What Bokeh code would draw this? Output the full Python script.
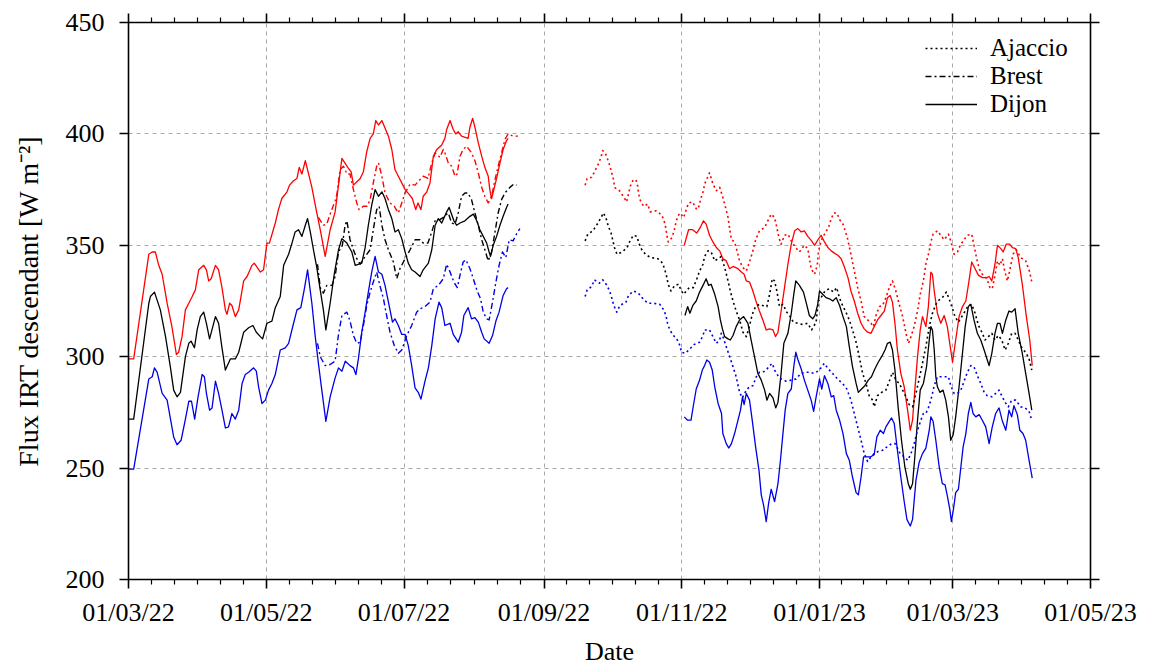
import numpy as np
import pandas as pd
from bokeh.plotting import figure
from bokeh.models import (FixedTicker, DatetimeAxis, LinearAxis, DatetimeTickFormatter,
                          CustomJSTickFormatter, Legend, LegendItem, Range1d)
from bokeh.embed import file_html
from bokeh.resources import INLINE

# ---------------- data ----------------
ORIGIN = "2022-03-01"          # day offsets below are counted from this date
x_tick_dates = ["2022-03-01", "2022-05-01", "2022-07-01", "2022-09-01",
                "2022-11-01", "2023-01-01", "2023-03-01", "2023-05-01"]
y_ticks = [200, 250, 300, 350, 400, 450]
stations = ["Ajaccio", "Brest", "Dijon"]
y_label = "Flux IRT descendant [W m\u207b\u00b2]"
x_label = "Date"

# Dijon, spring-summer 2022
dijon_max_p1_day = [
    0.0, 2.3, 9.0, 10.5, 11.9, 13.4, 14.9, 17.1, 19.3, 21.2,
    22.2, 23.7, 25.2, 26.7, 28.2, 29.6, 31.1, 33.3, 34.5, 35.5,
    36.6, 38.5, 39.9, 41.4, 42.9, 43.6, 44.8, 45.8, 47.3, 48.8,
    51.0, 52.5, 54.7, 55.7, 58.4, 59.8, 61.3, 62.4, 65.0, 66.4,
    67.9, 70.2, 71.3, 73.1, 74.6, 75.6, 76.8, 78.3, 81.2, 83.1,
    84.9, 87.1, 89.3, 91.5, 93.0, 94.5, 97.1, 98.6, 99.6, 102.6,
    104.0, 105.5, 107.0, 108.4, 109.5, 110.7, 112.2, 115.1, 116.6, 118.0,
    119.5, 122.5, 124.2, 125.7, 127.2, 128.2, 129.5, 130.5, 132.1, 133.5,
    135.0, 136.5, 138.7, 140.1, 140.9, 142.4, 143.8, 144.9, 146.0, 147.5,
    150.4, 151.2, 152.4, 153.4, 154.9, 156.4, 157.8, 159.3, 160.0, 160.8,
    163.0, 164.5, 165.9, 167.4, 168.1]
dijon_max_p1 = [
    299, 299, 346, 347, 347, 341, 337, 324, 313, 301,
    302, 309, 321, 324, 327, 330, 339, 341, 339, 334,
    335, 341, 339, 331, 321, 319, 324, 323, 318, 321,
    334, 336, 341, 342, 338, 339, 351, 351, 360, 366,
    371, 374, 377, 379, 380, 385, 382, 388, 376, 366,
    357, 345, 357, 365, 377, 389, 385, 383, 377, 380,
    383, 392, 398, 400, 406, 404, 406, 399, 393, 384,
    381, 375, 373, 371, 366, 369, 366, 372, 374, 378,
    390, 393, 395, 398, 402, 406, 402, 400, 401, 399,
    398, 403, 407, 403, 396, 390, 385, 381, 375, 371,
    380, 387, 393, 397, 398]

dijon_mean_p1_day = [
    0.0, 2.3, 9.0, 9.7, 11.5, 14.1, 16.4, 18.6, 20.0, 21.5,
    23.0, 25.2, 26.7, 27.7, 29.2, 30.4, 31.8, 33.3, 34.5, 35.9,
    38.5, 39.9, 41.4, 42.9, 45.1, 47.3, 48.8, 51.0, 53.2, 55.1,
    56.6, 58.4, 59.4, 61.3, 63.5, 65.0, 67.2, 68.7, 70.9, 72.4,
    73.8, 75.3, 76.8, 78.3, 79.3, 80.5, 81.9, 83.4, 84.9, 86.3,
    87.4, 89.3, 91.1, 93.0, 94.5, 96.7, 98.9, 100.4, 103.3, 104.8,
    106.2, 107.7, 109.2, 110.7, 112.2, 113.6, 115.1, 116.6, 118.0, 119.5,
    121.0, 122.5, 123.9, 125.4, 126.9, 129.1, 130.5, 132.8, 134.3, 135.8,
    137.2, 138.7, 140.9, 142.0, 144.1, 145.3, 146.8, 149.0, 151.2, 152.7,
    154.2, 155.6, 157.1, 158.6, 159.7, 160.3, 161.5, 163.0, 164.5, 165.9,
    167.4, 168.1]
dijon_mean_p1 = [
    272, 272, 324, 327, 329, 321, 309, 295, 285, 282,
    284, 300, 306, 307, 304, 312, 318, 320, 315, 308,
    318, 315, 304, 294, 299, 299, 302, 311, 313, 314,
    311, 309, 308, 315, 316, 322, 327, 341, 346, 351,
    356, 357, 354, 359, 362, 356, 348, 340, 330, 321,
    312, 324, 337, 348, 353, 351, 347, 341, 342, 349,
    359, 368, 375, 372, 374, 371, 366, 362, 356, 357,
    353, 347, 342, 339, 338, 336, 339, 342, 348, 359,
    362, 360, 365, 367, 361, 359, 360, 361, 363, 364,
    361, 357, 354, 351, 347, 345, 350, 354, 359, 363,
    367, 368.5]

dijon_min_p1_day = [
    0.0, 2.3, 9.0, 10.5, 11.5, 12.7, 14.9, 17.1, 18.6, 20.0,
    21.5, 23.3, 25.2, 26.7, 27.9, 29.3, 30.8, 32.6, 33.6, 34.5,
    35.9, 37.0, 38.5, 39.9, 41.4, 42.9, 44.3, 45.8, 47.3, 48.8,
    50.3, 51.7, 53.2, 55.4, 56.6, 57.6, 59.1, 60.6, 62.0, 63.5,
    65.0, 67.2, 69.4, 70.9, 73.1, 74.6, 76.3, 77.8, 79.3, 81.2,
    82.7, 84.1, 85.6, 87.4, 89.3, 91.5, 93.0, 94.5, 96.0, 98.1,
    99.6, 100.7, 101.8, 103.3, 104.8, 106.2, 107.7, 109.2, 110.7, 112.2,
    113.6, 115.4, 116.9, 118.0, 119.5, 121.0, 122.5, 123.9, 125.4, 126.9,
    128.3, 129.5, 131.3, 132.8, 134.3, 135.8, 137.5, 138.7, 140.1, 142.4,
    143.8, 146.0, 147.5, 148.5, 150.4, 151.9, 153.4, 154.9, 156.4, 157.5,
    159.7, 161.2, 162.7, 164.1, 165.9, 167.4, 168.1]
dijon_min_p1 = [
    249.5, 249.5, 290, 291, 295, 293, 283.5, 280.5, 272, 264,
    260.5, 262.5, 272, 280, 280, 272, 282, 292, 291, 283.5,
    276, 277, 289, 283.5, 276, 268, 268.5, 274.5, 272, 276,
    288, 292, 293, 295, 293.5, 286.5, 279, 280.5, 285, 288,
    292, 303, 304, 306, 315, 321, 322, 330, 339, 324,
    309, 297, 285, 271, 282, 290.5, 295, 293.5, 298, 296,
    295, 292, 299, 311, 320, 329, 338, 345, 338, 337,
    332, 323, 315.5, 317, 314, 310, 310, 305, 296, 286,
    284, 281, 289, 295, 305, 317, 324.5, 322, 314, 315,
    310, 306.5, 311, 318.5, 322, 317, 317.5, 315.5, 311, 308,
    306, 309.5, 316, 320, 327.5, 330.5, 331]

# Dijon, winter 2022-2023
dijon_max_p2_day = [
    246.1, 248.0, 249.8, 251.6, 253.2, 254.6, 255.8, 257.3, 258.8, 260.3,
    261.8, 263.2, 264.7, 266.2, 267.7, 269.9, 271.4, 272.6, 273.6, 275.0,
    276.5, 278.0, 279.4, 280.9, 282.4, 283.9, 285.4, 286.5, 287.6, 289.0,
    290.5, 292.0, 293.5, 295.0, 296.4, 297.9, 299.3, 300.8, 302.5, 303.8,
    305.3, 306.7, 308.2, 309.7, 311.2, 312.6, 314.1, 315.6, 317.1, 318.6,
    319.9, 321.4, 322.9, 324.4, 325.8, 327.3, 328.8, 330.2, 331.7, 333.2,
    334.7, 336.1, 337.3, 338.3, 339.4, 340.5, 342.0, 343.5, 345.0, 346.2,
    347.2, 348.2, 349.4, 350.6, 351.6, 353.1, 354.2, 355.3, 356.0, 356.8,
    358.2, 359.7, 361.2, 362.6, 364.1, 364.9, 366.3, 367.8, 369.3, 370.8,
    372.2, 373.4, 374.9, 376.4, 378.1, 380.1, 381.1, 382.3, 383.7, 384.8,
    386.3, 387.3, 388.7, 390.2, 391.4, 392.9, 394.0, 395.8, 397.6, 399.1,
    400.2]
dijon_max_p2 = [
    350, 357, 357, 355.5, 358, 361, 359.5, 354.5, 351.5, 349,
    347.5, 344, 343, 339.5, 340.5, 339.5, 338, 337, 334, 333.5,
    329.5, 324.5, 320.5, 316.5, 312, 312.5, 312, 309, 311, 320.5,
    331, 341.5, 350.5, 356.5, 357.5, 356, 356.5, 354, 352, 350,
    352.5, 354.5, 351.5, 349, 347.5, 346.5, 345.5, 344, 340, 335.5,
    329.5, 325, 319.5, 315, 312.5, 311, 310.5, 313.5, 316.5, 318.5,
    320.5, 326.5, 327.5, 324.5, 315, 303, 292.5, 286.5, 276, 267,
    271.5, 285, 300, 312, 318, 313.5, 322.5, 338, 337, 329.5,
    319.5, 315, 318.5, 313.5, 303, 297.5, 307.5, 318, 322.5, 325,
    334, 342.5, 339.5, 336.5, 335.5, 335.5, 336, 334, 341.5, 350,
    348.5, 347, 350.5, 350.5, 349, 348.5, 344.5, 332.5, 318, 307.5,
    296]

dijon_mean_p2_day = [
    246.4, 247.6, 248.6, 249.9, 251.4, 252.9, 254.4, 255.8, 256.9, 258.0,
    259.6, 261.1, 262.1, 263.0, 264.0, 265.5, 266.5, 267.7, 269.1, 270.6,
    272.4, 274.3, 275.7, 277.2, 278.7, 280.2, 281.7, 282.7, 283.9, 285.4,
    286.6, 287.6, 289.0, 290.2, 292.0, 293.5, 294.6, 295.5, 297.1, 298.9,
    300.3, 301.5, 303.0, 304.0, 305.2, 306.0, 307.4, 308.9, 310.4, 311.9,
    313.4, 314.9, 316.4, 317.9,
    319.2, 320.6, 322.2, 323.2, 324.6, 326.1, 327.6, 329.0, 330.5, 332.0,
    333.5, 335.0, 336.1, 337.3, 338.3, 339.4, 340.8, 342.3, 343.8, 345.3,
    346.2, 347.2, 348.2, 349.4, 350.6, 352.0, 353.4, 354.6, 355.3, 356.0,
    356.8, 357.5, 358.2, 359.3, 360.7, 361.9, 363.1, 364.1, 365.2, 366.3,
    367.8, 369.0, 370.5, 371.9, 373.0, 374.4, 375.9, 377.4, 378.9, 380.3,
    381.1, 382.3, 383.7, 384.8, 385.9, 387.0, 388.5, 389.9, 391.1, 392.6,
    394.0, 395.8, 397.3, 398.8, 400.0]
dijon_mean_p2 = [
    318.5, 322.5, 319.5, 323, 325, 329, 332, 335, 332, 332.5,
    328, 322.5, 316.5, 312.5, 309, 308, 307.5, 309.5, 313.5, 316.5,
    318, 315, 307.5, 300, 292.5, 289.5, 285, 280.5, 283.5, 281.5,
    277, 279.5, 292.5, 306, 310.5, 319.5, 328, 334, 332, 329,
    323.5, 318.5, 317, 318.5, 323.5, 329.5, 328, 326.5, 326, 325,
    326.5, 323, 318, 313.5,
    304.5, 295.5, 288, 284, 285.5, 287, 289.5, 291, 294.5, 297.5,
    300, 303, 306, 306.5, 303, 294, 277.5, 262.5, 250.5, 243,
    240.5, 243, 255, 271.5, 285, 288, 295.5, 307.5, 313.5, 312,
    303, 291, 286.5, 284, 285, 280.5, 273, 262.5, 265, 273,
    286.5, 298.5, 313.5, 322.5, 323.5, 316.5, 310.5, 307.5, 303, 298.5,
    296, 301.5, 310.5, 315, 315, 310.5, 316.5, 320.5, 320, 321.5,
    310.5, 301.5, 292.5, 283.5, 276]

dijon_min_p2_day = [
    246.1, 247.6, 249.1, 250.3, 251.4, 252.9, 254.1, 255.1, 256.1, 257.3,
    258.5, 259.6, 261.1, 262.6, 263.2, 264.7, 265.8, 267.0, 268.4, 269.9,
    271.0, 271.9, 272.6, 273.6, 275.0, 276.2, 277.7, 279.2, 280.2, 281.3,
    282.4, 283.5, 284.6, 286.1, 287.6, 288.7, 289.8, 290.8, 292.0, 293.5,
    294.6, 295.5, 296.5, 297.9, 299.3, 300.8, 302.3, 303.4, 304.5, 306.0,
    307.0, 308.2, 309.7, 311.2, 312.3, 313.4, 314.9, 316.4, 317.9,
    319.2, 320.6, 322.2, 323.2, 324.4, 325.5, 326.6, 328.5, 330.2, 331.4,
    332.9, 334.3, 335.4, 336.9, 337.9, 339.1, 340.5, 342.0, 343.5, 344.7,
    346.2, 347.2, 348.7, 350.1, 351.6, 353.1, 354.6, 355.3, 356.3, 357.5,
    359.0, 360.4, 361.6, 362.6, 363.7, 364.4, 365.3, 366.3, 367.5, 368.6,
    369.6, 370.8, 371.9, 373.0, 374.0, 375.2, 376.7, 378.1, 379.6, 381.1,
    382.5, 384.0, 385.5, 387.0, 388.5, 389.9, 391.1, 392.1, 393.6, 394.7,
    396.1, 397.3, 398.8, 400.2]
dijon_min_p2 = [
    273, 271.5, 271.5, 279, 285.5, 289.5, 294, 296, 298.5, 297.5,
    294, 286.5, 279, 274.5, 265.5, 261, 259, 261, 265.5, 271.5,
    276, 282, 278.5, 283.5, 280.5, 271.5, 259.5, 249, 238, 233,
    226, 234.5, 240.5, 235, 243, 253.5, 265.5, 276, 283.5, 285.5,
    295.5, 302, 298.5, 294.5, 289.5, 285, 280.5, 275.5, 282, 290,
    285.5, 291.5, 288, 282, 282.5, 276, 271.5, 265.5, 256.5,
    253.5, 246, 239, 238, 246, 255, 255, 255, 256, 264,
    267, 265.5, 268.5, 271, 272.5, 270, 258, 246, 235, 227,
    224, 227, 244.5, 252.5, 256.5, 259, 267, 273, 271, 262.5,
    250.5, 243, 242.5, 237.5, 231.5, 226, 231.5, 239, 240.5, 250.5,
    259.5, 265.5, 274.5, 279.5, 274.5, 273, 274, 271.5, 268.5, 261,
    268.5, 274.5, 277, 271, 267, 276, 273, 278, 274, 267,
    265.5, 262.5, 253.5, 245.5]

# Brest, summer 2022
brest_max_day = [
    84.1, 86.3, 87.8, 89.3, 91.5, 92.3, 93.7, 95.2, 96.7, 98.1,
    99.6, 101.1, 102.1, 104.0, 105.7, 107.0, 108.4, 109.9, 110.7, 112.2,
    113.6, 115.8, 117.7, 119.5, 121.0, 122.5, 124.7, 126.9, 129.1, 130.5,
    132.6, 134.3, 135.8, 137.9, 139.4, 140.1, 141.6, 143.1, 144.6, 145.5,
    146.8, 148.2, 149.7, 151.9, 153.4, 154.9, 156.4, 157.8, 159.3, 160.8,
    162.3, 163.7, 165.2, 166.7, 168.1, 170.3, 172.5]
brest_max = [
    362.5, 359, 359.5, 364, 370, 373, 384, 385.5, 382, 382,
    375, 369, 366, 367.5, 367.5, 370.5, 378, 385.5, 387, 381,
    373.5, 369, 367.5, 364.5, 369, 373.5, 377.5, 377, 379.5, 381,
    380, 387, 391.5, 389.5, 393, 391.5, 387, 385.5, 381, 382,
    390, 393, 394.5, 391.5, 388, 382.5, 376, 372, 369, 372,
    379.5, 385.5, 391.5, 397.5, 400, 399, 399]

brest_mean_day = [
    83.7, 84.9, 86.3, 87.8, 90.1, 91.5, 93.0, 94.7, 95.9, 96.7,
    98.1, 99.6, 101.1, 102.6, 104.8, 107.0, 108.4, 109.9, 111.0, 112.2,
    113.6, 115.1, 117.3, 118.8, 120.2, 122.5, 124.7, 126.9, 129.1, 130.5,
    132.6, 134.3, 135.8, 137.9, 139.4, 141.6, 143.1, 144.6, 146.0, 147.5,
    149.0, 150.3, 151.9, 153.4, 154.9, 156.4, 157.8, 159.3, 160.8, 162.3,
    163.7, 165.2, 166.7, 168.9, 170.7, 171.8]
brest_mean = [
    341.5, 331, 328.5, 332, 332, 336, 347, 350, 359, 361,
    352.5, 348, 344, 341.5, 345, 348, 357, 366, 367.5, 359,
    352.5, 348, 342.5, 335, 339.5, 344, 348, 352.5, 352.5, 351,
    351, 356, 361, 361.5, 362.5, 364.5, 360, 359.5, 364.5, 372,
    373.5, 373.5, 370.5, 364.5, 359, 352.5, 348, 343, 347, 356,
    364.5, 370.5, 373.5, 376, 377.5, 377]

brest_min_day = [
    83.7, 84.9, 87.1, 89.3, 91.5, 93.0, 94.5, 96.7, 98.1, 99.6,
    101.1, 102.6, 104.0, 105.5, 107.0, 108.4, 109.9, 111.3, 112.9, 114.3,
    115.8, 117.7, 119.5, 121.0, 123.2, 125.4, 127.6, 129.1, 131.3, 133.5,
    135.0, 137.2, 139.4, 140.9, 142.4, 144.1, 145.6, 147.1, 148.2, 149.4,
    151.2, 152.7, 154.4, 155.9, 157.1, 158.6, 159.7, 161.2, 162.7, 164.1,
    165.6, 167.1, 168.6, 170.3, 171.8, 173.3]
brest_min = [
    306, 300, 296, 296.5, 298, 310, 318.5, 320, 316, 309.5,
    306, 306.5, 314, 323, 329, 333.5, 338, 332, 326, 318.5,
    311, 305, 301.5, 303, 309.5, 314, 320, 321.5, 322.5, 324.5,
    330.5, 332, 335, 341.5, 338, 333.5, 331, 338, 342.5, 343.5,
    339.5, 335, 329.5, 326, 320, 317, 316.5, 324.5, 333.5, 341,
    347, 344.5, 352.5, 352, 355, 357.5]

# Ajaccio, autumn-winter 2022-2023
ajaccio_max_day = [
    202.2, 203.1, 205.1, 206.6, 208.1, 209.2, 210.0, 211.1, 212.2, 213.2,
    214.1, 214.9, 215.2, 217.4, 219.1, 220.6, 221.4, 222.2, 223.3, 224.7,
    225.5, 225.9, 226.7, 228.1, 229.9, 231.1, 233.6, 236.2, 237.3, 238.0,
    238.4, 239.0, 240.7, 241.7, 242.4, 243.2, 244.3, 245.8, 248.0, 249.8,
    251.6, 252.6, 253.6, 254.6, 255.1, 257.3, 258.8, 260.3, 261.8, 263.2,
    264.4, 265.5, 266.2, 267.0, 268.4, 269.6, 270.6, 272.1, 273.6, 275.0,
    276.5, 277.7, 279.4, 281.7, 283.1, 284.6, 286.1, 287.1, 288.0, 289.0,
    290.5, 292.0, 293.5, 295.4, 297.1, 299.3, 300.8, 302.3, 303.8, 305.0,
    305.5, 306.7, 308.2, 310.0, 311.2, 312.3, 313.7, 314.9, 316.4, 318.3,
    319.9, 321.4, 322.9, 324.4, 325.8, 327.3, 328.8, 329.9, 331.0, 332.5,
    333.9, 335.4, 336.9, 338.3, 339.8, 341.3, 342.8, 344.3, 345.4, 346.5,
    347.9, 349.4, 350.6, 352.0, 353.1, 354.6, 355.3, 356.3, 358.2, 359.7,
    361.2, 363.1, 364.1, 365.6, 367.1, 368.3, 370.0, 371.5, 373.4, 374.1,
    375.5, 376.7, 378.1, 380.1, 381.5, 382.5, 383.7, 384.8, 385.9, 387.0,
    388.0, 389.2, 390.2, 391.7, 393.1, 395.1, 397.3, 399.1, 400.0]
ajaccio_max = [
    377, 380, 380.5, 383.5, 386.5, 389.5, 392.5, 391.5, 388.5, 385.5,
    382, 379, 376, 374.5, 372, 369.5, 373, 376.5, 379, 379.5,
    376.5, 373, 370, 367.5, 368.5, 365, 365.5, 363.5, 360.5, 357.5,
    354.5, 351.5, 353.5, 357, 360, 363, 364.5, 362.5, 369, 369.5,
    366, 367.5, 371.5, 374.5, 377.5, 382.5, 377.5, 374.5, 376, 371.5,
    367, 362.5, 357.5, 352.5, 351.5, 347, 343, 340, 338.5, 342.5,
    347.5, 352.5, 356.5, 358, 361, 364, 362.5, 358, 353.5, 350.5,
    354.5, 355, 352, 349, 347, 350, 348.5, 339.5, 337, 341,
    347, 352, 355, 358, 362, 364.5, 364.5, 361.5, 359.5, 353.5,
    346, 338.5, 331, 325, 318, 316.5, 315, 313.5, 318.5, 322.5,
    323, 326.5, 331, 334, 329.5, 323.5, 318, 310.5, 306, 309,
    313.5, 320.5, 328, 334, 341.5, 347.5, 351.5, 355, 356.5, 354.5,
    352.5, 355, 352, 346, 347, 350, 352.5, 354.5, 355, 351.5,
    344.5, 339.5, 337, 335, 331, 330.5, 336.5, 343, 341, 344,
    338.5, 334, 338.5, 346, 348, 344.5, 343, 338, 333.5]

ajaccio_mean_day = [
    202.2, 203.4, 205.6, 207.3, 209.0, 210.3, 211.5, 212.5, 213.7, 214.4,
    215.2, 216.3, 218.6, 220.8, 222.1, 223.6, 225.1, 226.2, 227.3, 228.9,
    231.1, 234.4, 236.5, 237.5, 238.3, 239.0, 240.2, 241.9, 243.6, 244.6,
    245.8, 248.3, 250.1, 251.7, 252.9, 254.4, 255.1, 256.6, 258.0, 259.6,
    261.1, 262.5, 264.0, 265.5, 266.5, 267.7, 269.1, 270.6, 272.1, 273.6,
    274.8, 276.2, 277.7, 279.4, 280.9, 282.7, 283.9, 285.1, 286.1, 287.1,
    288.3, 289.8, 291.5, 293.0, 294.4, 296.4, 298.4, 300.8, 302.5, 304.5,
    305.5, 306.7, 308.4, 310.3, 312.2, 313.6, 314.8, 316.2, 317.7, 319.2,
    320.6, 322.2, 323.6, 325.1, 326.6, 328.0, 329.5, 330.2, 331.7, 333.5,
    335.4, 336.9, 338.3, 339.8, 341.3, 342.8, 344.3, 345.7, 347.2, 348.7,
    350.1, 351.6, 353.1, 354.6, 356.0, 357.5, 359.0, 360.4, 362.2, 363.4,
    364.9, 366.0, 367.5, 369.0, 370.5, 371.9, 373.4, 374.9, 376.4, 377.9,
    379.3, 380.8, 382.3, 383.7, 385.2, 386.7, 388.2, 389.6, 391.1, 392.6,
    394.0, 395.8, 397.3, 398.8, 400.0]
ajaccio_mean = [
    352, 355, 356.5, 359, 362, 364.5, 362, 358.5, 355.5, 352.5,
    349, 346, 347, 349, 352, 354.5, 354, 350.5, 348, 346,
    344.5, 344, 342, 339, 336, 332.5, 329.5, 332, 332.5, 330,
    328, 331, 331, 335, 338.5, 341.5, 345, 347.5, 347, 343,
    344, 345, 340, 334, 329.5, 325, 320.5, 316.5, 311, 309,
    313, 319, 322.5, 323.5, 323, 322.5, 328, 335, 334, 329.5,
    322.5, 323.5, 320, 318, 315.5, 315, 314.5, 315, 312, 315.5,
    325, 326.5, 329.5, 330.5, 329, 331, 326.5, 323, 320, 316.5,
    312, 306.5, 300, 292.5, 288, 282.5, 280.5, 277.5, 282.5, 284,
    285, 289, 293, 289.5, 288, 285, 282, 278.5, 277.5, 283.5,
    290, 297, 304.5, 313.5, 319.5, 323.5, 325.5, 326.5, 329, 326,
    321.5, 318, 315.5, 318, 320.5, 323, 323.5, 319.5, 314, 311,
    307.5, 309, 310.5, 307.5, 309.5, 307.5, 303, 306, 310.5, 310.5,
    307.5, 303.5, 302, 299, 294]

ajaccio_min_day = [
    202.2, 203.1, 205.1, 206.3, 208.5, 210.0, 211.9, 213.2, 214.1, 214.9,
    216.2, 217.6, 220.3, 221.4, 223.6, 225.8, 227.4, 229.9, 232.5, 235.3,
    237.0, 238.0, 238.7, 239.7, 241.3, 242.8, 244.2, 244.9, 246.6, 248.6,
    250.5, 252.9, 254.4, 255.1, 257.3, 258.8, 260.3, 261.8, 262.5, 263.2,
    264.7, 266.2, 267.7, 269.1, 270.6, 271.8, 273.6, 275.0, 276.5, 278.0,
    279.4, 280.9, 282.4, 283.9, 285.1, 286.1, 287.6, 289.0, 291.2, 293.5,
    295.6, 297.8, 300.0, 301.5, 303.7, 305.9, 308.1, 309.9, 311.8, 314.0,
    316.2, 318.1,
    319.9, 321.4, 322.9, 324.4, 325.8, 327.3, 328.8, 330.2, 332.0, 333.9,
    335.9, 337.9, 339.5, 341.7, 343.5, 345.0, 346.5, 347.9, 349.4, 350.9,
    352.0, 353.1, 354.2, 355.3, 356.0, 356.8, 358.2, 359.7, 361.9, 363.1,
    364.1, 365.6, 367.1, 368.6, 370.0, 371.5, 373.0, 374.4, 375.9, 377.4,
    378.9, 380.3, 382.3, 384.0, 385.5, 386.7, 388.2, 389.6, 391.1, 392.9,
    395.1, 397.0, 398.8, 400.0]
ajaccio_min = [
    327, 330, 331.5, 334.5, 333, 334.5, 332, 329, 326, 323,
    320, 323, 324.5, 327.5, 329.5, 328.5, 326.5, 324, 324, 323.5,
    321, 318.5, 315, 312, 309.5, 308, 305, 302, 301.5, 303.5,
    305.5, 306.5, 309.5, 312, 312, 309, 306, 307.5, 310.5, 309,
    304.5, 300, 295.5, 291, 284, 281.5, 285, 286.5, 287, 291,
    293, 293, 294, 296, 297, 294, 291.5, 290, 289, 289.5,
    290, 292.5, 293, 293, 292.5, 294, 297, 294.5, 292.5, 290,
    288, 285.5,
    280.5, 274.5, 268.5, 262.5, 256.5, 253, 255, 256.5, 257.5, 258,
    259.5, 261, 261, 256.5, 255, 253.5, 256.5, 261, 267, 271.5,
    274.5, 274.5, 277, 280.5, 283.5, 287, 291, 291, 291, 291,
    287, 283.5, 283.5, 285, 289, 293, 296, 295.5, 291.5, 288,
    284, 282.5, 282, 283.5, 285, 282.5, 279.5, 277.5, 280.5, 280.5,
    277.5, 277, 275.5, 271.5]

# ---------------- helpers ----------------
DAY_MS = 86400000.0


def ms(date_str):
    return pd.Timestamp(date_str).value / 1e6


ORIGIN_MS = ms(ORIGIN)


def series(*parts):
    """parts: (days, values) pairs; NaN inserted between parts to break the line."""
    xs, ys = [], []
    for i, (d, v) in enumerate(parts):
        n = min(len(d), len(v))
        if i > 0:
            xs.append(np.nan)
            ys.append(np.nan)
        xs.extend([ORIGIN_MS + float(t) * DAY_MS for t in d[:n]])
        ys.extend([float(y) for y in v[:n]])
    return xs, ys


FONT = "Liberation Serif"
FS = "26px"
RED, BLACK, BLUE = "#ff0000", "#000000", "#0000e6"

p = figure(width=1149, height=668, x_axis_type="datetime",
           x_range=Range1d(start=ms(x_tick_dates[0]), end=ms(x_tick_dates[-1])),
           y_range=Range1d(y_ticks[0], y_ticks[-1]),
           output_backend="svg", toolbar_location=None,
           min_border_left=128, min_border_right=59,
           min_border_top=22, min_border_bottom=88)
p.outline_line_color = None
p.background_fill_color = "white"
p.border_fill_color = "white"

major = [ms(d) for d in x_tick_dates]
minor = []
for a, b in zip(major[:-1], major[1:]):
    minor += [a + (b - a) * k / 6.0 for k in range(1, 6)]
xt = FixedTicker(ticks=major, minor_ticks=minor)
yt = FixedTicker(ticks=y_ticks, minor_ticks=[])
fmt_str = "%d/%m/%y"
fmt = DatetimeTickFormatter(microseconds=fmt_str, milliseconds=fmt_str, seconds=fmt_str,
                            minsec=fmt_str, minutes=fmt_str, hourmin=fmt_str, hours=fmt_str,
                            days=fmt_str, months=fmt_str, years=fmt_str)
blank = CustomJSTickFormatter(code="return ''")


def style_axis(ax, show_labels):
    ax.axis_line_width = 1.6
    ax.axis_line_color = "black"
    ax.major_tick_line_width = 1.6
    ax.minor_tick_line_width = 1.2
    ax.major_tick_line_color = "black"
    ax.minor_tick_line_color = "black"
    ax.major_tick_out = 9
    ax.major_tick_in = 0
    ax.minor_tick_out = 5
    ax.minor_tick_in = 0
    ax.major_label_text_font = FONT
    ax.major_label_text_color = "black"
    ax.axis_label_text_font = FONT
    ax.axis_label_text_font_size = FS
    ax.axis_label_text_font_style = "normal"
    ax.axis_label_text_color = "black"
    if show_labels:
        ax.major_label_text_font_size = FS
    else:
        ax.formatter = blank
        ax.major_label_text_font_size = "0px"
        ax.major_label_standoff = 0


xa = p.xaxis[0]
xa.ticker = xt
xa.formatter = fmt
style_axis(xa, True)
xa.major_label_standoff = 9
xa.axis_label = x_label
xa.axis_label_standoff = 7

ya = p.yaxis[0]
ya.ticker = yt
style_axis(ya, True)
ya.minor_tick_out = 0
ya.major_label_standoff = 15
ya.axis_label = y_label
ya.axis_label_text_font_size = "28px"
ya.axis_label_standoff = 19

top = DatetimeAxis(ticker=xt)
style_axis(top, False)
p.add_layout(top, "above")

right = LinearAxis(ticker=yt)
style_axis(right, False)
right.minor_tick_out = 0
p.add_layout(right, "right")

for g, t in ((p.xgrid, xt), (p.ygrid, yt)):
    g.ticker = t
    g.grid_line_color = "#a8a8a8"
    g.grid_line_dash = "4 4"
    g.grid_line_width = 1

STYLE = {
    "Ajaccio": dict(line_dash="2 3", line_width=1.6),
    "Brest": dict(line_dash="6 3 2 3", line_width=1.4),
    "Dijon": dict(line_dash="solid", line_width=1.3),
}

data = {
    "Dijon": [
        (RED, series((dijon_max_p1_day, dijon_max_p1), (dijon_max_p2_day, dijon_max_p2))),
        (BLACK, series((dijon_mean_p1_day, dijon_mean_p1), (dijon_mean_p2_day, dijon_mean_p2))),
        (BLUE, series((dijon_min_p1_day, dijon_min_p1), (dijon_min_p2_day, dijon_min_p2))),
    ],
    "Brest": [
        (RED, series((brest_max_day, brest_max))),
        (BLACK, series((brest_mean_day, brest_mean))),
        (BLUE, series((brest_min_day, brest_min))),
    ],
    "Ajaccio": [
        (RED, series((ajaccio_max_day, ajaccio_max))),
        (BLACK, series((ajaccio_mean_day, ajaccio_mean))),
        (BLUE, series((ajaccio_min_day, ajaccio_min))),
    ],
}

legend_renderers = {}
for name in ["Dijon", "Brest", "Ajaccio"]:
    for color, (xs, ys) in data[name]:
        r = p.line(xs, ys, line_color=color, line_join="round", **STYLE[name])
        if color == BLACK:
            legend_renderers[name] = r

legend = Legend(items=[LegendItem(label=s, renderers=[legend_renderers[s]]) for s in stations],
                location="top_right",
                label_text_font=FONT, label_text_font_size="25px", label_text_color="black",
                glyph_width=52, glyph_height=26, label_height=26, label_width=88,
                label_standoff=13, spacing=0, padding=6, margin=6,
                background_fill_alpha=0, border_line_alpha=0)
p.add_layout(legend)

open("out.html", "w").write(file_html(p, INLINE))
